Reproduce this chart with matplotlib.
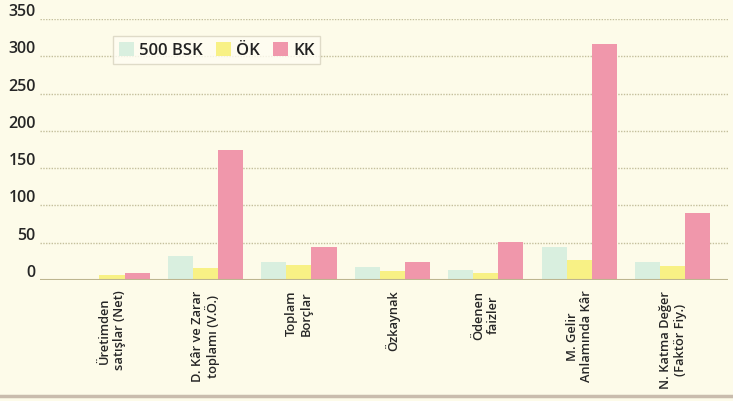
import numpy as np
import matplotlib
matplotlib.use("Agg")
import matplotlib.pyplot as plt
from matplotlib.lines import Line2D

plt.rcParams['font.family'] = ['Open Sans', 'DejaVu Sans']
plt.rcParams['font.weight'] = 'semibold'

categories = ["Üretimden\nsatışlar (Net)", "D. Kâr ve Zarar\ntoplamı (V.Ö.)", "Toplam\nBorçlar",
              "Özkaynak", "Ödenen\nfaizler", "M. Gelir\nAnlamında Kâr", "N. Katma Değer\n(Faktör Fiy.)"]
series_names = ["500 BSK", "ÖK", "KK"]
bsk = [2, 32, 24, 17, 13, 44, 24]
ok = [7, 16, 20, 12, 9, 27, 19]
kk = [10, 174, 44, 24, 51, 316, 90]
yticks = [0, 50, 100, 150, 200, 250, 300, 350]

bg = '#fdfbe9'
colors = ['#d9efdf', '#f8f185', '#f097ab']

fig = plt.figure(figsize=(7.33, 4.02), dpi=100, facecolor=bg)
ax = fig.add_axes([40/733, 121/402, 688/733, 261/402], facecolor=bg)

x = np.arange(len(categories))
w = 0.268
for i, (vals, name) in enumerate(zip([bsk, ok, kk], series_names)):
    ax.bar(x + (i - 1) * w, vals, width=w, color=colors[i], label=name, zorder=3)

ax.set_ylim(0, 350)
ax.set_xlim(-0.77, 6.59)
ax.set_yticks(yticks)
ax.set_yticklabels([str(t) for t in yticks], fontsize=11.5, color='#262626')
for lab in ax.get_yticklabels():
    lab.set_verticalalignment('bottom')
ax.tick_params(axis='y', length=0, pad=3)
ax.yaxis.grid(True, linestyle=(0, (1, 1)), color='#c4bf9c', linewidth=1.0, zorder=1)

ax.set_xticks(x)
ax.set_xticklabels(categories, rotation=90, fontsize=9.3, color='#262626',
                   va='top', ha='center', linespacing=1.15)
ax.tick_params(axis='x', length=0, pad=7)

for s in ax.spines.values():
    s.set_visible(False)
ax.axhline(0, color='#bdb58f', linewidth=1.5, zorder=4)

leg = ax.legend(loc='upper left', bbox_to_anchor=(0.106, 0.935), borderaxespad=0,
                ncol=3, fontsize=12, frameon=True, fancybox=False,
                handlelength=0.9, handleheight=0.9, handletextpad=0.3, columnspacing=0.8,
                borderpad=0.35)
leg.get_frame().set_facecolor('#fffdf3')
leg.get_frame().set_edgecolor('#d8d3c0')
leg.get_frame().set_linewidth(1.0)
for t in leg.get_texts():
    t.set_color('#222222')

fig.add_artist(Line2D([0, 1], [5/402, 5/402], transform=fig.transFigure,
                      color='#c9bcad', linewidth=2.5))

fig.savefig('out.png', dpi=100, facecolor=bg)
